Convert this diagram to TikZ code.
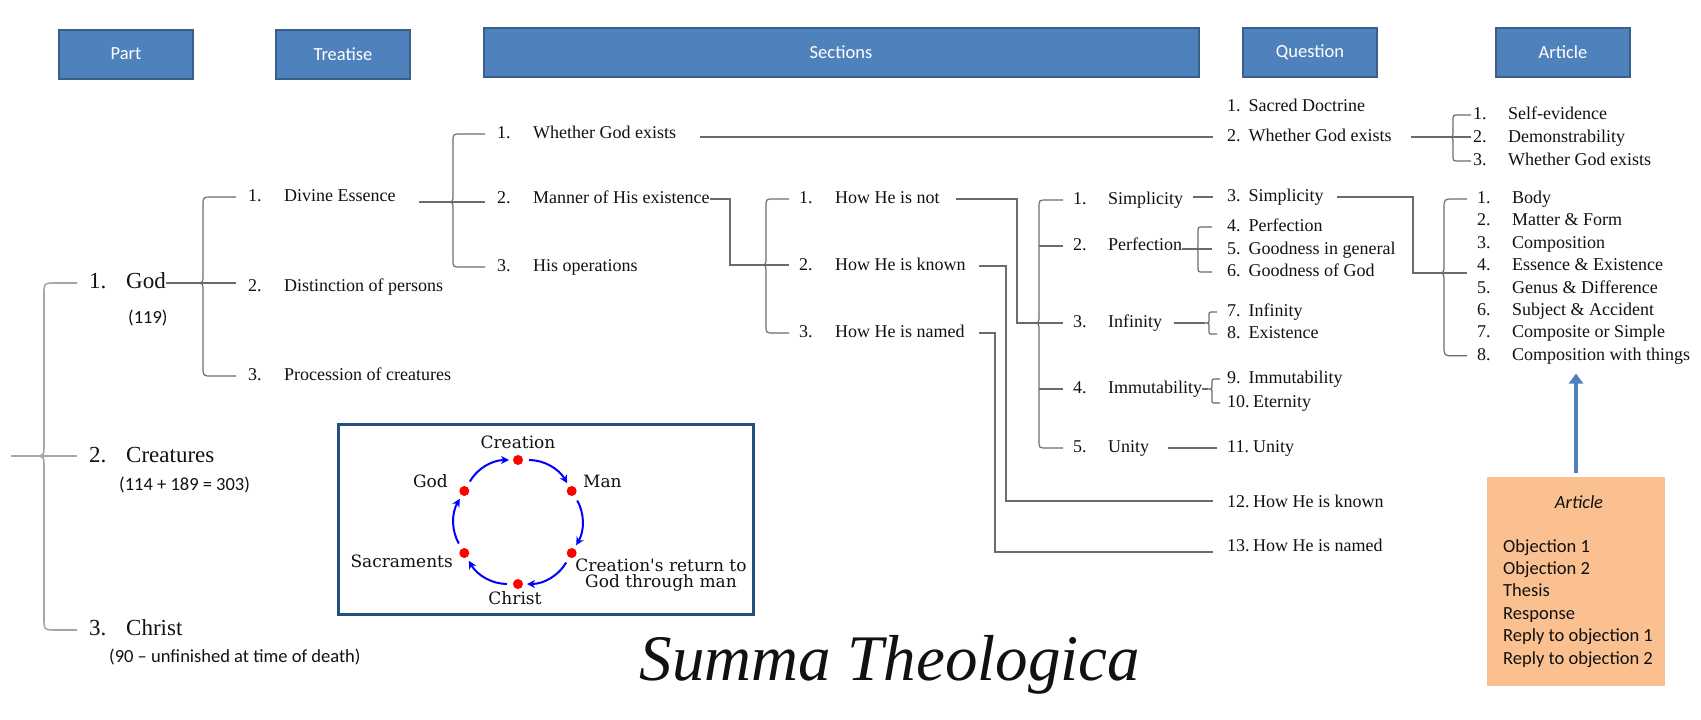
\documentclass[tikz,border=0pt]{standalone}
\usepackage{fontspec}
\setmainfont{Liberation Serif}
\setsansfont{Carlito}
\newfontfamily\cycserif{DejaVu Serif}
\usetikzlibrary{
  arrows.meta,
  calc,
  positioning,
  shadows
}
\definecolor{stBlue}{HTML}{4F81BD}
\definecolor{stEdge}{HTML}{3A5F8B}
\definecolor{stNavy}{HTML}{24507F}
\definecolor{stPeach}{HTML}{FAC090}
\definecolor{stLine}{HTML}{6B6B6B}
\definecolor{stPale}{HTML}{A6A6A6}
\definecolor{stInk}{HTML}{111111}
\newcommand{\stItem}{\fontsize{18}{22}\selectfont}
\newcommand{\stPart}{\fontsize{23}{27}\selectfont}
\newcommand{\stSans}{\sffamily\fontsize{18.5}{22.4}\selectfont}
\newcommand{\stCyc}{\cycserif\fontsize{17}{16.5}\selectfont}
\newcommand{\stTitle}{\itshape\fontsize{65}{70}\selectfont}
% curly bracket: [style]{tip}{spine offset}{corner}{top node}{bottom node}{gap}
\newcommand{\sbrace}[7][bracket]{%
  \draw[#1] ($(#5.west)+(-#7,0)$) -- ($(#2 |- #5.west)+(#3+#4,0)$)
    .. controls ($(#2 |- #5.west)+(#3,0)$) .. ($(#2 |- #5.west)+(#3,#4)$)
    -- ($(#2)+(#3,-#4)$)
    .. controls ($(#2)+(#3,0)$) .. (#2)
    .. controls ($(#2)+(#3,0)$) .. ($(#2)+(#3,#4)$)
    -- ($(#2 |- #6.west)+(#3,-#4)$)
    .. controls ($(#2 |- #6.west)+(#3,0)$) .. ($(#2 |- #6.west)+(#3+#4,0)$)
    -- ($(#6.west)+(-#7,0)$);}
\tikzset{
  every node/.style={text=stInk},
  header/.style={
    draw=stEdge,
    line width=2pt,
    fill=stBlue,
    text=white,
    font=\stSans,
    minimum width=134pt,
    minimum height=49pt,
    inner sep=0pt
  },
  entry/.style={anchor=west, inner sep=0pt, font=\stItem, text height=13pt, text depth=4pt},
  partentry/.style={entry, font=\stPart, text height=16pt, text depth=5pt},
  note/.style={anchor=west, inner sep=0pt, font=\stSans, text height=13pt, text depth=4pt},
  tree/.style={draw=stLine, line width=1.2pt},
  bracket/.style={tree, line join=round},
  bigbracket/.style={draw=stPale, line width=1.6pt, line join=round},
  cycframe/.style={
    draw=stNavy,
    line width=3pt,
    fill=white,
    minimum width=415pt,
    minimum height=190pt,
    inner sep=0pt
  },
  dot/.style={circle, fill=red, minimum size=10pt, inner sep=0pt, outer sep=0pt},
  cyclink/.style={
    draw=blue,
    line width=2pt,
    -{Stealth[length=8pt,width=8pt,inset=2.5pt]},
    shorten <=6pt,
    shorten >=4pt
  },
  cyclabel/.style={font=\stCyc, inner sep=0pt},
  articlebox/.style={
    draw=white,
    line width=4pt,
    fill=stPeach,
    minimum width=182pt,
    minimum height=213pt,
    drop shadow={shadow xshift=1.5pt, shadow yshift=-2pt, opacity=0.3}
  },
  uplink/.style={draw=stBlue, line width=3.5pt, -{Triangle[length=10pt,width=14pt]}},
  title/.style={font=\stTitle, inner sep=0pt}
}

\begin{document}
\begin{tikzpicture}[x=1pt, y=-1pt]
  \useasboundingbox (0,0) rectangle (1701,720);

  \node[header] (hPart) at (126,54) {Part};
  \node[header] (hTreatise) at (343,54) {Treatise};
  \node[header, minimum width=715pt] (hSections) at (841,52) {Sections};
  \node[header] (hQuestion) at (1310,52) {Question};
  \node[header] (hArticle) at (1563,52) {Article};

  % parts
  \node[partentry] (god) at (89,283) {\makebox[37pt][l]{1.}God};
  \node[partentry] (creatures) at (89,457) {\makebox[37pt][l]{2.}Creatures};
  \node[partentry] (christ) at (89,630) {\makebox[37pt][l]{3.}Christ};
  \node[note] (godN) at (128,319) {(119)};
  \node[note] (creaturesN) at (119,486) {(114 + 189 = 303)};
  \node[note] (christN) at (109,658) {(90 – unfinished at time of death)};
  \coordinate (root) at (11,456);
  \coordinate (tPart) at (34,456);
  \sbrace[bigbracket]{tPart}{10}{12}{god}{christ}{12}
  \draw[bigbracket] (root) -- ($(root -| creatures.west)+(-12,0)$);

  % treatises
  \node[entry] (essence) at (248,197) {\makebox[36pt][l]{1.}Divine Essence};
  \node[entry] (persons) at (248,287) {\makebox[36pt][l]{2.}Distinction of persons};
  \node[entry] (procession) at (248,376) {\makebox[36pt][l]{3.}Procession of creatures};
  \coordinate (tGod) at (196,283);
  \sbrace{tGod}{7}{9}{essence}{procession}{12}
  \draw[tree] (god.east) -- ($(tGod -| persons.west)+(-12,0)$);

  % sections
  \node[entry] (exists) at (497,134) {\makebox[36pt][l]{1.}Whether God exists};
  \node[entry] (manner) at (497,199) {\makebox[36pt][l]{2.}Manner of His existence};
  \node[entry] (operations) at (497,267) {\makebox[36pt][l]{3.}His operations};
  \coordinate (tEssence) at (447,202);
  \sbrace{tEssence}{6}{8}{exists}{operations}{12}
  \draw[tree] ($(tEssence -| essence.east)+(23,0)$) -- ($(tEssence -| manner.west)+(-12,0)$);

  \node[entry] (hownot) at (799,199) {\makebox[36pt][l]{1.}How He is not};
  \node[entry] (howknown) at (799,266) {\makebox[36pt][l]{2.}How He is known};
  \node[entry] (hownamed) at (799,333) {\makebox[36pt][l]{3.}How He is named};
  \coordinate (tManner) at (760,265);
  \sbrace{tManner}{6}{8}{hownot}{hownamed}{10}
  \draw[tree] (manner.east) -| ($(tManner)+(-30,0)$) -- ($(tManner -| howknown.west)+(-10,0)$);

  \node[entry] (simplicity) at (1073,200) {\makebox[35pt][l]{1.}Simplicity};
  \node[entry] (perfection) at (1073,246) {\makebox[35pt][l]{2.}Perfection};
  \node[entry] (infinity) at (1073,323) {\makebox[35pt][l]{3.}Infinity};
  \node[entry] (immutability) at (1073,389) {\makebox[35pt][l]{4.}Immutability};
  \node[entry] (unity) at (1073,448) {\makebox[35pt][l]{5.}Unity};
  \coordinate (tNot) at (1033,323);
  \sbrace{tNot}{6}{8}{simplicity}{unity}{10}
  \draw[tree] ($(hownot.east)+(16,0)$) -| ($(tNot)+(-16,0)$) -- ($(tNot -| infinity.west)+(-10,0)$);
  \foreach \nm in {perfection, immutability}
    \draw[tree] ($(tNot |- \nm.west)+(6,0)$) -- ($(\nm.west)+(-10,0)$);

  % questions
  \node[entry] (qDoctrine) at (1227,107) {\makebox[21.5pt][l]{1.}Sacred Doctrine};
  \node[entry] (qExists) at (1227,137) {\makebox[21.5pt][l]{2.}Whether God exists};
  \node[entry] (qSimplicity) at (1227,197) {\makebox[21.5pt][l]{3.}Simplicity};
  \node[entry] (qPerfection) at (1227,227) {\makebox[21.5pt][l]{4.}Perfection};
  \node[entry] (qGeneral) at (1227,250) {\makebox[21.5pt][l]{5.}Goodness in general};
  \node[entry] (qGoodGod) at (1227,272) {\makebox[21.5pt][l]{6.}Goodness of God};
  \node[entry] (qInfinity) at (1227,312) {\makebox[21.5pt][l]{7.}Infinity};
  \node[entry] (qExistence) at (1227,334) {\makebox[21.5pt][l]{8.}Existence};
  \node[entry] (qImmutability) at (1227,379) {\makebox[21.5pt][l]{9.}Immutability};
  \node[entry] (qEternity) at (1227,403) {\makebox[26pt][l]{10.}Eternity};
  \node[entry] (qUnity) at (1227,448) {\makebox[26pt][l]{11.}Unity};
  \node[entry] (qKnown) at (1227,503) {\makebox[26pt][l]{12.}How He is known};
  \node[entry] (qNamed) at (1227,547) {\makebox[26pt][l]{13.}How He is named};

  \draw[tree] ($(qExists.west -| exists.east)+(24,0)$) -- ($(qExists.west)+(-14,0)$);
  \draw[tree] ($(qSimplicity.west -| simplicity.east)+(10,0)$) -- ($(qSimplicity.west)+(-14,0)$);
  \coordinate (tPerf) at (1194,249);
  \sbrace{tPerf}{4}{5}{qPerfection}{qGoodGod}{15}
  \draw[tree] (tPerf -| perfection.east) -- ($(tPerf -| qGeneral.west)+(-15,0)$);
  \coordinate (tInf) at (1205,323);
  \sbrace{tInf}{4}{4}{qInfinity}{qExistence}{10}
  \draw[tree] ($(tInf -| infinity.east)+(12,0)$) -- (tInf);
  \coordinate (tImm) at (1208,389);
  \sbrace{tImm}{4}{4}{qImmutability}{qEternity}{7}
  \draw[tree] (tImm -| immutability.east) -- (tImm);
  \draw[tree] ($(qUnity.west -| unity.east)+(19,0)$) -- ($(qUnity.west)+(-10,0)$);
  \coordinate (elbKnown) at (1006,501);
  \coordinate (elbNamed) at (995,552);
  \draw[tree] ($(howknown.east)+(13,0)$) -| (elbKnown) -- ($(elbKnown -| qKnown.west)+(-14,0)$);
  \draw[tree] ($(hownamed.east)+(14,0)$) -| (elbNamed) -- ($(elbNamed -| qNamed.west)+(-14,0)$);

  % articles
  \node[entry] (aSelf) at (1473,115) {\makebox[35pt][l]{1.}Self-evidence};
  \node[entry] (aDemo) at (1473,138) {\makebox[35pt][l]{2.}Demonstrability};
  \node[entry] (aWhether) at (1473,161) {\makebox[35pt][l]{3.}Whether God exists};
  \coordinate (tWhether) at (1448,137);
  \sbrace{tWhether}{5}{6}{aSelf}{aWhether}{2}
  \draw[tree] ($(tWhether -| qExists.east)+(19,0)$) -- ($(tWhether -| aDemo.west)+(-2,0)$);

  \foreach \txt [count=\i] in {Body, Matter \& Form, Composition, Essence \& Existence,
      Genus \& Difference, Subject \& Accident, Composite or Simple, Composition with things}
    \node[entry] (art\i) at (1477,{176.6+22.4*\i}) {\makebox[35pt][l]{\i.}\txt};
  \coordinate (tSimp) at (1438,273);
  \sbrace{tSimp}{6}{10}{art1}{art8}{10}
  \draw[tree] ($(qSimplicity.east)+(13,0)$) -| ($(tSimp)+(-25,0)$) -- ($(tSimp -| art4.west)+(-10,0)$);

  \node[articlebox] (artBox) at (1576,581) {};
  \node[font=\stSans\itshape, inner sep=0pt] (artTitle) at (1579,502) {Article};
  \node[font=\stSans, align=left, anchor=north west, inner sep=0pt] (artParts) at (1503,539)
    {Objection 1\\Objection 2\\Thesis\\Response\\Reply to objection 1\\Reply to objection 2};
  \draw[uplink] (artBox.north) -- ($(art8.south -| artBox.north)+(0,9)$);

  % cycle
  \node[cycframe] (cycBox) at (546,519.5) {};
  \coordinate (cyc) at (518,522);
  \foreach \nm/\ang in {cGod/150, cCreation/90, cMan/30, cReturn/-30, cChrist/-90, cSacr/210}
    \node[dot] (\nm) at ($(cyc)+(\ang:62pt)$) {};
  \foreach \a/\b in {cGod/cCreation, cCreation/cMan, cMan/cReturn, cReturn/cChrist, cChrist/cSacr, cSacr/cGod}
    \draw[cyclink] (\a) to[bend left=30] (\b);
  \node[cyclabel] (lCreation) at (518,442) {Creation};
  \node[cyclabel, anchor=west] (lMan) at (583,481) {Man};
  \node[cyclabel, anchor=east] (lGod) at (448,481) {God};
  \node[cyclabel, anchor=east] (lSacr) at (453,561) {Sacraments};
  \node[cyclabel] (lChrist) at (515,598) {Christ};
  \node[cyclabel, align=center] (lReturn) at (661,575) {Creation's return to\\God through man};

  \node[title, anchor=base] (title) at (890,680) {Summa Theologica};
\end{tikzpicture}
\end{document}
